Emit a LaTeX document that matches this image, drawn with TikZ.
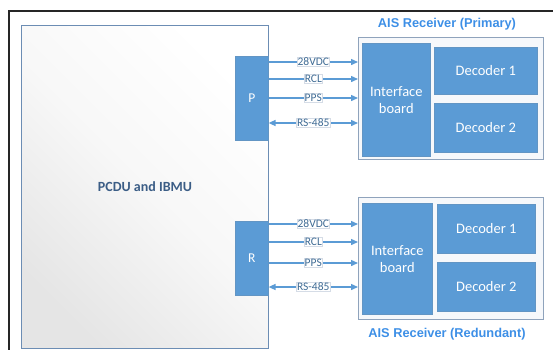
\documentclass[tikz,border=0pt]{standalone}
\usepackage{fontspec}
\setmainfont{Carlito}
\newfontfamily\ttlfont{Liberation Sans}
\usetikzlibrary{arrows.meta,shadows}
\definecolor{boxblue}{HTML}{5B9BD5}
\definecolor{pcduedge}{HTML}{6C8DB4}
\definecolor{pcdutext}{HTML}{3B5D86}
\definecolor{titleblue}{HTML}{3D8FE6}
\definecolor{recedge}{HTML}{8FA3BC}
\definecolor{recfill}{HTML}{F6F8FB}
\definecolor{labedge}{HTML}{D5DCE6}
\tikzset{
  blk/.style={fill=boxblue, draw=boxblue!80!gray, line width=0.6pt,
    drop shadow={shadow xshift=1pt,shadow yshift=-1pt,opacity=0.25}},
  rec/.style={fill=recfill, draw=recedge, line width=0.7pt,
    drop shadow={shadow xshift=1pt,shadow yshift=-1pt,opacity=0.2}},
  wtxt/.style={text=white, font=\fontsize{14.5}{17}\selectfont, align=center},
  sig/.style={draw=boxblue, line width=1.4pt, -{Triangle[length=7pt,width=6pt]}},
  sigb/.style={draw=boxblue, line width=1.4pt, {Triangle[length=7pt,width=6pt]}-{Triangle[length=7pt,width=6pt]}},
  lab/.style={fill=white, draw=labedge, line width=0.4pt, inner sep=0.6pt, text=boxblue!70!black,
    font=\fontsize{11.5}{12}\selectfont},
  ttl/.style={text=titleblue, font=\ttlfont\bfseries\fontsize{12.8}{14}\selectfont}
}
\begin{document}
\begin{tikzpicture}[x=1pt,y=-1pt]
\useasboundingbox (0,0) rectangle (553,349);
% outer frame
\draw[line width=1.4pt, black!85] (9,360) -- (9,11) -- (560,11);
% PCDU box
\path[left color=black!10, right color=white, middle color=white!97!black, shading angle=135] (21,25) rectangle (268,348);
\draw[pcduedge, line width=0.8pt] (21,25) rectangle (268,348);
\node[text=pcdutext, font=\bfseries\fontsize{14}{16}\selectfont] (pcdu) at (145,187) {PCDU and IBMU};
% P and R
\node[blk, minimum width=33pt, minimum height=84pt, inner sep=0pt, anchor=north west, text=white,
  font=\fontsize{13.5}{15}\selectfont] (P) at (235,56) {P};
\node[blk, minimum width=33pt, minimum height=74pt, inner sep=0pt, anchor=north west, text=white,
  font=\fontsize{13.5}{15}\selectfont] (R) at (235,221) {R};
% Primary receiver
\node[rec, minimum width=185pt, minimum height=122pt, inner sep=0pt, anchor=north west] (rp) at (358,37) {};
\node[blk, wtxt, minimum width=68pt, minimum height=113pt, inner sep=0pt, anchor=north west] (ibp) at (362,43) {Interface\\board};
\node[blk, wtxt, minimum width=103pt, minimum height=47pt, inner sep=0pt, anchor=north west] (d1p) at (434,47) {Decoder 1};
\node[blk, wtxt, minimum width=103pt, minimum height=49pt, inner sep=0pt, anchor=north west] (d2p) at (434,103) {Decoder 2};
\node[ttl] (tp) at (447,24) {AIS Receiver (Primary)};
% Redundant receiver
\node[rec, minimum width=185pt, minimum height=122pt, inner sep=0pt, anchor=north west] (rr) at (358,197) {};
\node[blk, wtxt, minimum width=70pt, minimum height=111pt, inner sep=0pt, anchor=north west] (ibr) at (362,203) {Interface\\board};
\node[blk, wtxt, minimum width=98pt, minimum height=49pt, inner sep=0pt, anchor=north west] (d1r) at (437,204) {Decoder 1};
\node[blk, wtxt, minimum width=98pt, minimum height=49pt, inner sep=0pt, anchor=north west] (d2r) at (437,262) {Decoder 2};
\node[ttl] (tr) at (447,334) {AIS Receiver (Redundant)};
% primary signals
\foreach \yy/\t/\n in {62/28VDC/a, 79/RCL/b, 98/PPS/c}{
  \coordinate (ps\n) at (P.east |- 0,\yy);
  \coordinate (pe\n) at (rp.west |- 0,\yy);
  \draw[sig] (ps\n) -- (pe\n) node[lab, pos=0.5] {\t};
}
\coordinate (psd) at (P.east |- 0,123);
\coordinate (ped) at (rp.west |- 0,123);
\draw[sigb] (psd) -- (ped) node[lab, pos=0.5] {RS-485};
% redundant signals
\foreach \yy/\t/\n in {224/28VDC/a, 242/RCL/b, 263/PPS/c}{
  \coordinate (rs\n) at (R.east |- 0,\yy);
  \coordinate (re\n) at (rr.west |- 0,\yy);
  \draw[sig] (rs\n) -- (re\n) node[lab, pos=0.5] {\t};
}
\coordinate (rsd) at (R.east |- 0,287);
\coordinate (red) at (rr.west |- 0,287);
\draw[sigb] (rsd) -- (red) node[lab, pos=0.5] {RS-485};
\end{tikzpicture}
\end{document}
